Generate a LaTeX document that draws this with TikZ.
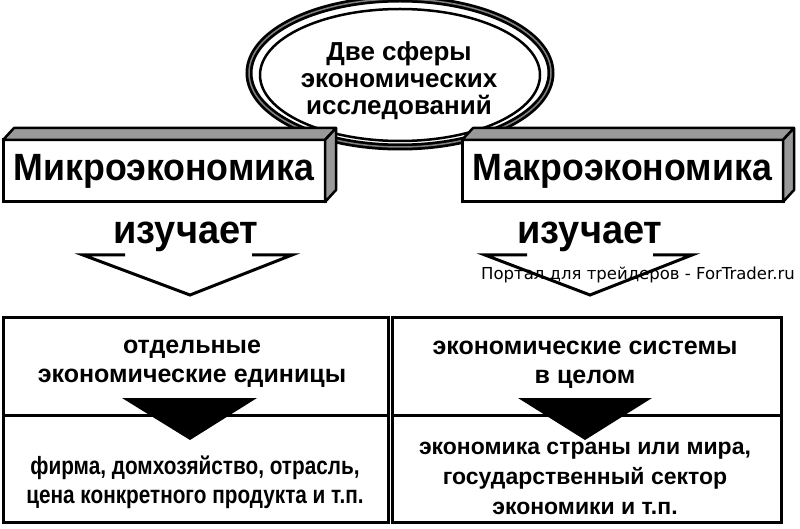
\documentclass[tikz,border=0pt]{standalone}
\usepackage{fontspec}
\setmainfont{Liberation Sans}
\newfontfamily\narrowfont[FakeStretch=0.83]{Liberation Sans}
\newfontfamily\titlefont[FakeStretch=0.94]{Liberation Sans}
\newfontfamily\studyfont[FakeStretch=0.95]{Liberation Sans}
\newfontfamily\wmfont{DejaVu Sans}
\definecolor{facegray}{gray}{0.6}
\begin{document}
\begin{tikzpicture}[x=1pt,y=-1pt,
  titlebox/.style={draw, fill=white, line width=3pt, outer sep=0pt, inner sep=0pt,
     font=\titlefont\bfseries\fontsize{38}{40}\selectfont},
  face/.style={fill=facegray, draw, line width=2.5pt, line join=round},
  studies/.style={font=\studyfont\bfseries\fontsize{40}{42}\selectfont},
  celltext/.style={font=\bfseries\fontsize{25}{29}\selectfont, align=center},
  narrowtext/.style={font=\narrowfont\bfseries\fontsize{25}{29}\selectfont, align=center},
  openarrow/.style={line width=3pt, line join=miter},
  cell/.style={draw, line width=3pt}
]
\useasboundingbox (0,0) rectangle (800,529);
\fill[white] (0,0) rectangle (800,529);

% ellipse (behind boxes)
\draw[line width=7pt, fill=white] (400,73) ellipse [x radius=151pt, y radius=74pt];
\draw[gray, line width=1.5pt] (400,73) ellipse [x radius=151pt, y radius=74pt];
\draw[line width=2.5pt] (400,75) ellipse [x radius=140pt, y radius=66pt];
\node[font=\bfseries\fontsize{26}{27}\selectfont, align=center] (spheres) at (399,81)
  {Две сферы\\экономических\\исследований};

% title boxes
\node[titlebox, minimum width=322pt, minimum height=62pt] (micro) at (164,171) {Микроэкономика};
\filldraw[face] (micro.north west) -- ++(11,-12) -- ([shift={(11,-12)}]micro.north east) -- (micro.north east) -- cycle;
\filldraw[face] (micro.north east) -- ++(11,-12) -- ([shift={(11,-12)}]micro.south east) -- (micro.south east) -- cycle;

\node[titlebox, minimum width=321pt, minimum height=62pt] (macro) at (622.5,171) {Макроэкономика};
\filldraw[face] (macro.north west) -- ++(11,-12) -- ([shift={(11,-12)}]macro.north east) -- (macro.north east) -- cycle;
\filldraw[face] (macro.north east) -- ++(11,-12) -- ([shift={(11,-12)}]macro.south east) -- (macro.south east) -- cycle;

% "изучает" and open arrows
\node[studies] (studyL) at (186,237) {изучает};
\node[studies] (studyR) at (590,237) {изучает};
\draw[openarrow] (125,255) -- (83,255) -- (190,295) -- (292,255) -- (252,255);
\draw[openarrow] (527,255) -- (485,255) -- (590,295) -- (692,255) -- (653,255);

% watermark
\node[font=\wmfont\fontsize{16.5}{18}\selectfont] (wm) at (638,275) {Портал для трейдеров - ForTrader.ru};

% bottom cells
\draw[cell] (3,317) rectangle (388,415);
\draw[cell] (3,415) rectangle (388,522);
\draw[cell] (392,317) rectangle (781,415);
\draw[cell] (392,415) rectangle (781,522);

\node[celltext] (unitsL) at (192,364) {отдельные\\экономические единицы};
\node[celltext] (systemsR) at (585,365) {экономические системы\\в целом};
\node[narrowtext] (exL) at (195,482) {фирма, домхозяйство, отрасль,\\цена конкретного продукта и т.п.};
\node[celltext, font=\bfseries\fontsize{23}{30}\selectfont] (exR) at (585,478) {экономика страны или мира,\\государственный сектор\\экономики и т.п.};

% filled triangles
\fill (122,398) -- (257,398) -- (190,440) -- cycle;
\fill (518,398) -- (652,398) -- (585,440) -- cycle;
\end{tikzpicture}
\end{document}
